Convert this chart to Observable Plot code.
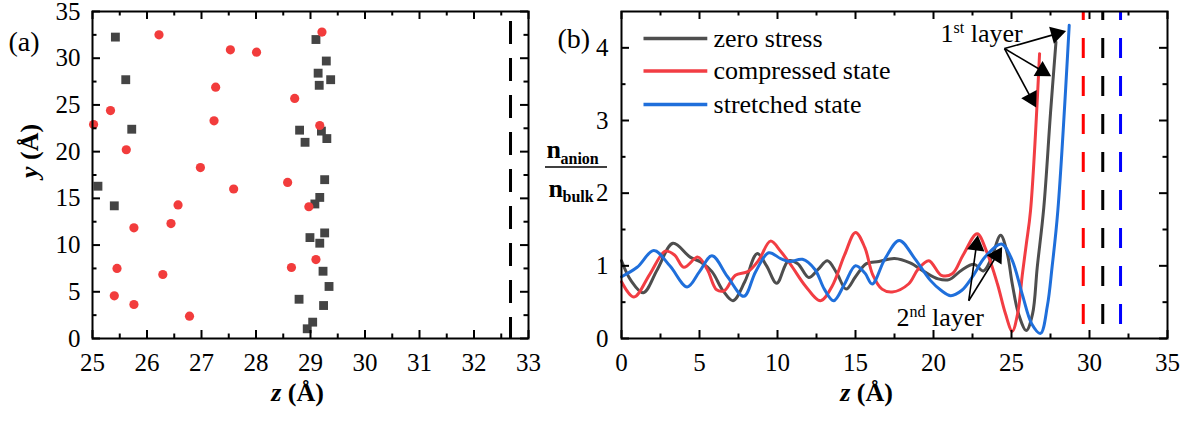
<!DOCTYPE html>
<html><head><meta charset="utf-8">
<script src="https://cdn.jsdelivr.net/npm/d3@7"></script>
<script src="https://cdn.jsdelivr.net/npm/@observablehq/plot@0.6"></script>
<style>
body{margin:0;background:#fff;}
#wrap{position:relative;width:1189px;height:421px;overflow:hidden;background:#fff;}
#pa{position:absolute;left:0;top:0;}
#pb{position:absolute;left:530px;top:0;}
#wrap svg, #wrap svg text, #wrap svg tspan{font-family:"Liberation Serif","Times New Roman",Times,serif !important;}
</style></head>
<body><div id="wrap"><div id="pa"></div><div id="pb"></div></div>
<script>
// ---------- Panel (a) data ----------
const squareZ = [25.42,25.61,25.72,28.80,25.10,25.40,29.10,29.29,29.14,29.37,29.16,29.20,29.30,28.90,29.26,29.17,29.08,28.99,29.26,29.17,29.23,29.34,28.79,29.24,29.04,28.94];
const squareY = [32.26,27.7,22.4,22.3,16.3,14.2,32.0,29.7,28.4,27.7,27.1,22.2,21.4,21.0,17.0,15.1,14.4,10.8,11.3,10.2,7.2,5.57,4.2,3.53,1.75,1.04];
const circleZ = [26.22,27.53,28.01,27.26,28.71,25.33,27.23,25.02,25.62,26.98,28.58,27.59,26.57,29.21,29.17,28.97,25.76,26.44,25.45,26.29,28.65,25.40,25.76,26.78,29.10];
const circleY = [32.5,30.9,30.65,26.9,25.7,24.4,23.3,22.9,20.2,18.3,16.7,16.0,14.3,32.8,22.8,14.1,11.85,12.3,7.5,6.85,7.6,4.57,3.64,2.39,8.45];
const electrodeA = [32.67];
const aXTicks = [25,26,27,28,29,30,31,32,33];
const aXMinor = [25.5,26.5,27.5,28.5,29.5,30.5,31.5,32.5];
const aYTicks = [0,5,10,15,20,25,30,35];
const aYMinor = [2.5,7.5,12.5,17.5,22.5,27.5,32.5];

// ---------- Panel (b) data ----------
const zeroZ = [0,0.6,1.4,2.3,3.3,4.4,5.1,5.8,6.5,7.15,7.9,8.7,9.3,9.95,10.7,11.3,12.0,12.6,13.2,13.8,14.4,15.0,15.7,16.5,17.5,18.5,19.4,20.3,21.0,21.8,22.6,23.2,23.7,24.3,24.7,25.05,25.45,25.95,26.35,26.65,27.07,27.5,27.85];
const zeroN = [1.07,0.80,0.63,0.95,1.31,1.12,1.05,0.92,0.66,0.52,0.78,1.17,1.0,0.76,1.07,1.03,0.84,0.95,1.07,0.90,0.68,0.85,1.03,1.06,1.10,1.04,0.92,0.82,0.81,0.94,1.02,0.93,1.10,1.42,1.20,0.75,0.34,0.11,0.34,0.98,1.8,3.1,4.08];
const compZ = [0,0.8,1.8,2.8,3.4,4.0,4.9,5.5,6.1,6.6,7.3,8.1,8.8,9.55,10.2,10.9,11.8,12.76,13.5,14.3,15.0,15.6,16.1,16.7,17.35,18.4,19.0,19.7,20.5,21.2,21.9,22.8,23.4,24.1,24.6,25.05,25.4,25.7,25.95,26.22,26.8];
const compN = [0.78,0.57,0.88,1.20,1.15,0.98,1.12,0.95,0.67,0.66,0.87,0.92,1.08,1.34,1.2,1.0,0.72,0.52,0.72,1.15,1.46,1.25,0.88,0.68,0.64,0.75,0.95,1.07,0.87,0.89,1.15,1.44,1.2,0.75,0.35,0.10,0.35,0.89,1.3,1.76,3.92];
const strZ = [0,1.0,2.07,3.1,4.21,5.0,5.8,6.8,7.84,8.6,9.44,10.2,10.8,11.6,12.4,13.0,13.6,14.3,15.0,15.6,16.07,16.9,17.8,18.8,19.8,20.5,21.1,21.8,22.5,23.3,24.35,25.0,25.7,26.3,26.86,27.3,27.6,27.97,28.7];
const strN = [0.85,0.98,1.21,1.0,0.71,0.92,1.14,0.85,0.58,0.92,1.18,1.10,1.06,1.09,0.95,0.68,0.52,0.75,1.0,0.90,0.75,1.1,1.35,1.1,0.8,0.66,0.59,0.66,0.85,1.12,1.30,1.1,0.6,0.2,0.07,0.45,0.98,1.76,4.31];
const seriesNames = ["zero stress","compressed state","stretched state"];
const seriesColors = ["#4e4e4e","#f23d43","#1f6fdb"];
const interfaceZ = [29.6,30.85,31.99];
const interfaceColors = ["#ff0000","#000000","#0000ff"];
const bXTicks = [0,5,10,15,20,25,30,35];
const bXMinor = [2.5,7.5,12.5,17.5,22.5,27.5,32.5];
const bYTicks = [0,1,2,3,4];
const bYMinor = [0.5,1.5,2.5,3.5];
// annotations (data coordinates)
const legendZ1 = 1.41, legendZ2 = 5.5, legendTextZ = 5.9;
const legendN = [4.13,3.68,3.22];
const layer1Label = {z:20.45, n:4.19, text:"1st layer"};
const layer2Label = {z:17.63, n:0.29, text:"2nd layer"};
const arrowFromZ = [24.55,24.55,24.55,22.26,22.26];
const arrowFromN = [3.99,3.99,3.99,0.52,0.52];
const arrowToZ = [28.5,27.54,26.58,22.84,24.4];
const arrowToN = [4.23,3.61,3.18,1.42,1.26];

const H = 421, mTop = 11, mBottom = 83;
const frameH = H - mTop - mBottom;
const svgStyle = "font-size: 25px; color: black; background: transparent; overflow: visible;";

function frameTicks(xMaj, xMin, yMaj, yMin, fw) {
  const L = 8, l = 4.5, sw = 2;
  return [
    Plot.tickX(xMaj, {x: d=>d, insetTop: frameH - L, strokeWidth: sw}),
    Plot.tickX(xMin, {x: d=>d, insetTop: frameH - l, strokeWidth: sw}),
    Plot.tickX(xMaj, {x: d=>d, insetBottom: frameH - L, strokeWidth: sw}),
    Plot.tickX(xMin, {x: d=>d, insetBottom: frameH - l, strokeWidth: sw}),
    Plot.tickY(yMaj, {y: d=>d, insetRight: fw - L, strokeWidth: sw}),
    Plot.tickY(yMin, {y: d=>d, insetRight: fw - l, strokeWidth: sw}),
    Plot.tickY(yMaj, {y: d=>d, insetLeft: fw - L, strokeWidth: sw}),
    Plot.tickY(yMin, {y: d=>d, insetLeft: fw - l, strokeWidth: sw}),
  ];
}

// ---------- Panel (a) ----------
const aW = 530, aML = 92, aMR = 2;
const squares = squareZ.map((z,i)=>({z, y: squareY[i]}));
const circles = circleZ.map((z,i)=>({z, y: circleY[i]}));
const plotA = Plot.plot({
  width: aW, height: H, marginLeft: aML, marginRight: aMR, marginTop: mTop, marginBottom: mBottom,
  style: svgStyle,
  x: {domain: [25,33]},
  y: {domain: [0,35]},
  marks: [
    Plot.ruleX(electrodeA, {x: d=>d, stroke: "black", strokeWidth: 3, strokeDasharray: "23,14", strokeDashoffset: 27}),
    Plot.dot(squares, {x: "z", y: "y", symbol: "square", r: 5, fill: "#444444", stroke: "none"}),
    Plot.dot(circles, {x: "z", y: "y", symbol: "circle", r: 4.6, fill: "#f23c3c", stroke: "none"}),
    ...frameTicks(aXTicks, aXMinor, aYTicks, aYMinor, aW - aML - aMR),
    Plot.frame({strokeWidth: 2}),
    Plot.axisX({ticks: aXTicks, tickSize: 0, tickPadding: 15, label: null, tickFormat: d=>String(d), fontSize: 25}),
    Plot.axisY({ticks: aYTicks, tickSize: 0, tickPadding: 12, label: null, tickFormat: d=>String(d), fontSize: 25}),
    Plot.text(["z (Å)"], {frameAnchor: "bottom", dx: -13, dy: 62, fontWeight: "bold", fontSize: 26}),
    Plot.text(["y (Å)"], {frameAnchor: "left", dx: -63, dy: 3, rotate: -90, fontWeight: "bold", fontSize: 26}),
    Plot.text(["(a)"], {frameAnchor: "top-left", dx: -84, dy: 20, textAnchor: "start", fontSize: 28})
  ]
});
document.getElementById("pa").appendChild(plotA);

// ---------- Panel (b) ----------
const bW = 659, bML = 91, bMR = 22;
const series = [zeroZ, compZ, strZ].flatMap((zs, s) => zs.map((z,i)=>({z, n: [zeroN, compN, strN][s][i], s: seriesNames[s]})));
const bx = d3.scaleLinear([0,35],[bML, bW - bMR]);
const by = d3.scaleLinear([0,4.5],[H - mBottom, mTop]);
const headR = 6.5;
const tipDist = 2 * Math.sqrt(headR*headR*Math.PI / (3*Math.sqrt(3)));
const arrows = arrowFromZ.map((z1,i)=>{
  const p1 = [bx(z1), by(arrowFromN[i])], p2 = [bx(arrowToZ[i]), by(arrowToN[i])];
  const dx = p2[0]-p1[0], dy = p2[1]-p1[1], len = Math.hypot(dx,dy);
  const ux = dx/len, uy = dy/len;
  const c = [p2[0]-ux*tipDist, p2[1]-uy*tipDist];
  return {z1, n1: arrowFromN[i], zc: bx.invert(c[0]), nc: by.invert(c[1]), angle: Math.atan2(ux, -uy)*180/Math.PI};
});
const legend = seriesNames.map((name,i)=>({name, n: legendN[i], color: seriesColors[i]}));
const plotB = Plot.plot({
  width: bW, height: H, marginLeft: bML, marginRight: bMR, marginTop: mTop, marginBottom: mBottom,
  style: svgStyle,
  x: {domain: [0,35]},
  y: {domain: [0,4.5]},
  color: {domain: seriesNames, range: seriesColors},
  marks: [
    Plot.ruleX(interfaceZ, {x: d=>d, stroke: (d,i)=>interfaceColors[i], strokeWidth: 3, strokeDasharray: "20,18", strokeDashoffset: 11}),
    Plot.line(series, {x: "z", y: "n", z: "s", stroke: d=>d.s, strokeWidth: 3, curve: "catmull-rom"}),
    ...frameTicks(bXTicks, bXMinor, bYTicks, bYMinor, bW - bML - bMR),
    Plot.frame({strokeWidth: 2}),
    Plot.axisX({ticks: bXTicks, tickSize: 0, tickPadding: 15, label: null, tickFormat: d=>String(d), fontSize: 25}),
    Plot.axisY({ticks: bYTicks, tickSize: 0, tickPadding: 13, label: null, tickFormat: d=>String(d), fontSize: 25}),
    // legend
    Plot.link(legend, {x1: ()=>legendZ1, x2: ()=>legendZ2, y1: "n", y2: "n", stroke: d=>d.name, strokeWidth: 3.5}),
    Plot.text(legend, {x: ()=>legendTextZ, y: "n", text: "name", textAnchor: "start", fontSize: 26}),
    // annotations
    Plot.link(arrows, {x1: "z1", y1: "n1", x2: "zc", y2: "nc", stroke: "black", strokeWidth: 1.6}),
    Plot.dot(arrows, {x: "zc", y: "nc", symbol: "triangle", r: headR, rotate: "angle", fill: "black", stroke: "none"}),
    Plot.text([layer1Label, layer2Label], {x: "z", y: "n", text: "text", textAnchor: "start", fontSize: 26}),
    // axis titles
    Plot.text(["z (Å)"], {frameAnchor: "bottom", dx: -28, dy: 62, fontWeight: "bold", fontSize: 26}),
    Plot.text(["(b)"], {frameAnchor: "top-left", dx: -64, dy: 17, textAnchor: "start", fontSize: 28}),
    Plot.text(["n"], {frameAnchor: "left", dx: -75, dy: -25, textAnchor: "start", fontWeight: "bold", fontSize: 26}),
    Plot.text(["anion"], {frameAnchor: "left", dx: -61, dy: -16.5, textAnchor: "start", fontWeight: "bold", fontSize: 16}),
    Plot.text(["n"], {frameAnchor: "left", dx: -73, dy: 14, textAnchor: "start", fontWeight: "bold", fontSize: 26}),
    Plot.text(["bulk"], {frameAnchor: "left", dx: -59, dy: 22, textAnchor: "start", fontWeight: "bold", fontSize: 16})
  ]
});
document.getElementById("pb").appendChild(plotB);

// fraction bar of the y label
d3.select(plotB).append("line").attr("x1", 15).attr("x2", 77).attr("y1", 167).attr("y2", 167)
  .attr("stroke", "black").attr("stroke-width", 1.5);

// rich text: italic variables and superscripts
for (const svg of [plotA, plotB]) {
  svg.querySelectorAll("text").forEach(t => {
    const s = t.textContent;
    if (s === "z (Å)" || s === "y (Å)") {
      t.innerHTML = `<tspan font-style="italic">${s[0]}</tspan>${s.slice(1)}`;
    } else if (s === "1st layer" || s === "2nd layer") {
      t.innerHTML = `${s[0]}<tspan dy="-9" font-size="16">${s.slice(1,3)}</tspan><tspan dy="9">${s.slice(3)}</tspan>`;
    }
  });
}
</script></body></html>
